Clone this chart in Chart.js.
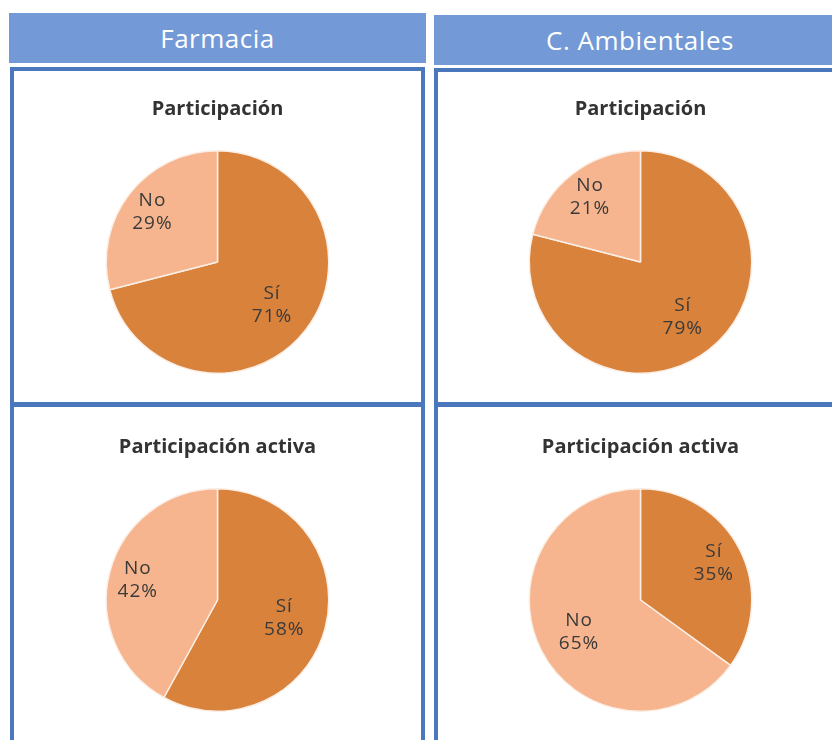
<!DOCTYPE html>
<html>
<head>
<meta charset="utf-8">
<script src="https://cdn.jsdelivr.net/npm/chart.js@4"></script>
<style>
  html, body { margin: 0; padding: 0; background: #fff; overflow: hidden; width: 832px; height: 740px; }
  .head { position: absolute; height: 50px; background: #7499d7; color: #fff;
          font: 400 26px "Open Sans", sans-serif; text-align: center; line-height: 50px; letter-spacing: 0.5px; }
  .panel { position: absolute; border: 4px solid #4b78bd; box-sizing: border-box; background: #fff; }
  canvas { position: absolute; }
</style>
</head>
<body>
<div class="head" style="left:9px; top:13px; width:417px;">Farmacia</div>
<div class="head" style="left:434px; top:15px; width:412px;">C. Ambientales</div>

<div class="panel" style="left:10px; top:67px; width:415px; height:339px;"></div>
<div class="panel" style="left:434px; top:68px; width:412px; height:338px;"></div>
<div class="panel" style="left:10px; top:403px; width:415px; height:345px;"></div>
<div class="panel" style="left:434px; top:403px; width:412px; height:345px;"></div>

<canvas id="c1" width="415" height="330" style="left:10px; top:70px;"></canvas>
<canvas id="c2" width="415" height="330" style="left:433px; top:70px;"></canvas>
<canvas id="c3" width="415" height="330" style="left:10px; top:408px;"></canvas>
<canvas id="c4" width="415" height="330" style="left:433px; top:408px;"></canvas>

<script>
// datos (%)
const labels = ['Sí', 'No'];
const farmaciaParticipacion = [71, 29];
const farmaciaActiva = [58, 42];
const ambientalesParticipacion = [79, 21];
const ambientalesActiva = [35, 65];
const titles = ['Participación', 'Participación activa'];

const colors = ['#d8823c', '#f6b58e'];

// etiquetas dentro de cada porción: nombre + porcentaje
const sliceLabels = {
  id: 'sliceLabels',
  afterDatasetsDraw(chart) {
    const ctx = chart.ctx;
    const data = chart.data.datasets[0].data;
    const total = data.reduce((a, b) => a + b, 0);
    chart.getDatasetMeta(0).data.forEach((arc, i) => {
      const mid = (arc.startAngle + arc.endAngle) / 2;
      const share = data[i] / total;
      const d = arc.outerRadius * (share > 0.5 ? 0.62 : 0.74);
      const x = arc.x + Math.cos(mid) * d;
      const y = arc.y + Math.sin(mid) * d;
      ctx.save();
      ctx.fillStyle = '#3a3a3a';
      ctx.font = '19px "Open Sans", sans-serif';
      ctx.letterSpacing = '1px';
      ctx.textAlign = 'center';
      ctx.textBaseline = 'middle';
      ctx.fillText(chart.data.labels[i], x, y - 11);
      ctx.fillText(Math.round(share * 100) + '%', x, y + 12);
      ctx.restore();
    });
  }
};

function makePie(id, values, title) {
  const ctx = document.getElementById(id).getContext('2d');
  return new Chart(ctx, {
    type: 'pie',
    data: {
      labels: labels,
      datasets: [{
        data: values,
        backgroundColor: colors,
        borderColor: '#fbeee4',
        borderWidth: 1.5,
        hoverOffset: 0
      }]
    },
    options: {
      responsive: false,
      animation: false,
      layout: { padding: { bottom: 26 } },
      plugins: {
        legend: { display: false },
        tooltip: { enabled: false },
        title: {
          display: true,
          text: title,
          color: '#333',
          font: { family: 'Open Sans', size: 20, weight: 'bold' },
          padding: { top: 27, bottom: 29 }
        }
      }
    },
    plugins: [sliceLabels]
  });
}

makePie('c1', farmaciaParticipacion, titles[0]);
makePie('c2', ambientalesParticipacion, titles[0]);
makePie('c3', farmaciaActiva, titles[1]);
makePie('c4', ambientalesActiva, titles[1]);
</script>
</body>
</html>
